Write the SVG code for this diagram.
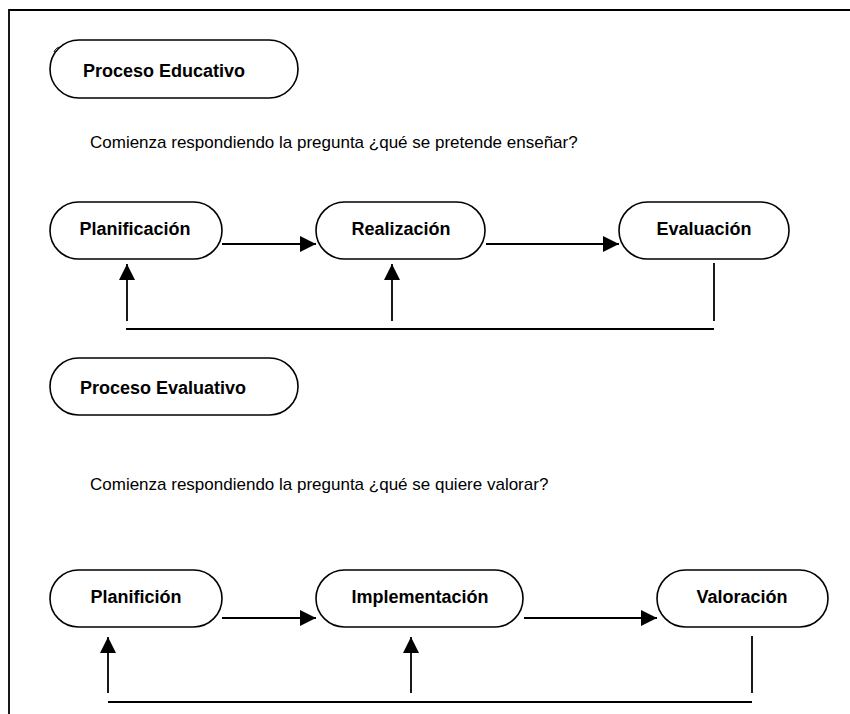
<svg xmlns="http://www.w3.org/2000/svg" width="850" height="714" viewBox="0 0 850 714">
<style>
.pill{fill:#fff;stroke:#000;stroke-width:1.6}
.lbl{font-family:"Liberation Sans",Arial,sans-serif;font-weight:bold;font-size:18px;text-anchor:middle;fill:#000}
.txt{font-family:"Liberation Sans",Arial,sans-serif;font-size:17px;fill:#000}
.ln{stroke:#000;stroke-width:1.8;fill:none}
</style>
<defs>
<marker id="ah" viewBox="0 0 16 16" refX="16" refY="8" markerWidth="16" markerHeight="16" markerUnits="userSpaceOnUse" orient="auto">
<path d="M0,0 L16,8 L0,16 Z" fill="#000"/>
</marker>
</defs>
<rect width="850" height="714" fill="#fff"/>
<g id="frame">
<path class="ln" d="M9,714 L9,10 L850,10"/>
<path d="M54,52 Q56,47 61,47" stroke="#000" stroke-width="1" fill="none"/>
</g>
<g id="proceso-educativo">
<rect class="pill" x="50" y="40" width="248" height="58" rx="29"/>
<text class="lbl" x="164" y="77">Proceso Educativo</text>
</g>
<g id="texto1"><text class="txt" x="90" y="148">Comienza respondiendo la pregunta ¿qué se pretende enseñar?</text></g>
<g id="planificacion">
<rect class="pill" x="50" y="202" width="172" height="57" rx="28.5"/>
<text class="lbl" x="135" y="235">Planificación</text>
</g>
<g id="realizacion">
<rect class="pill" x="316" y="202" width="169" height="57" rx="28.5"/>
<text class="lbl" x="401" y="235">Realización</text>
</g>
<g id="evaluacion">
<rect class="pill" x="619" y="202" width="170" height="57" rx="28.5"/>
<text class="lbl" x="704" y="235">Evaluación</text>
</g>
<g id="proceso-evaluativo">
<rect class="pill" x="50" y="358" width="248" height="57" rx="28.5"/>
<text class="lbl" x="163" y="394">Proceso Evaluativo</text>
</g>
<g id="texto2"><text class="txt" x="90" y="490">Comienza respondiendo la pregunta ¿qué se quiere valorar?</text></g>
<g id="planifición">
<rect class="pill" x="50" y="570" width="172" height="57" rx="28.5"/>
<text class="lbl" x="136" y="603">Planifición</text>
</g>
<g id="implementacion">
<rect class="pill" x="316" y="570" width="207" height="57" rx="28.5"/>
<text class="lbl" x="420" y="603">Implementación</text>
</g>
<g id="valoracion">
<rect class="pill" x="657" y="570" width="171" height="57" rx="28.5"/>
<text class="lbl" x="742" y="603">Valoración</text>
</g>
<g id="connectors">
<line class="ln" x1="222" y1="244" x2="316" y2="244" marker-end="url(#ah)"/>
<line class="ln" x1="486" y1="244" x2="619" y2="244" marker-end="url(#ah)"/>
<line class="ln" x1="127" y1="321" x2="127" y2="264" marker-end="url(#ah)"/>
<line class="ln" x1="392" y1="321" x2="392" y2="264" marker-end="url(#ah)"/>
<line class="ln" x1="714" y1="263" x2="714" y2="321"/>
<line class="ln" x1="126" y1="329" x2="714" y2="329"/>
<line class="ln" x1="222" y1="618" x2="316" y2="618" marker-end="url(#ah)"/>
<line class="ln" x1="524" y1="618" x2="657" y2="618" marker-end="url(#ah)"/>
<line class="ln" x1="108" y1="693" x2="108" y2="637" marker-end="url(#ah)"/>
<line class="ln" x1="411" y1="693" x2="411" y2="637" marker-end="url(#ah)"/>
<line class="ln" x1="752" y1="636" x2="752" y2="693"/>
<line class="ln" x1="108" y1="702" x2="752" y2="702"/>
</g>
</svg>
